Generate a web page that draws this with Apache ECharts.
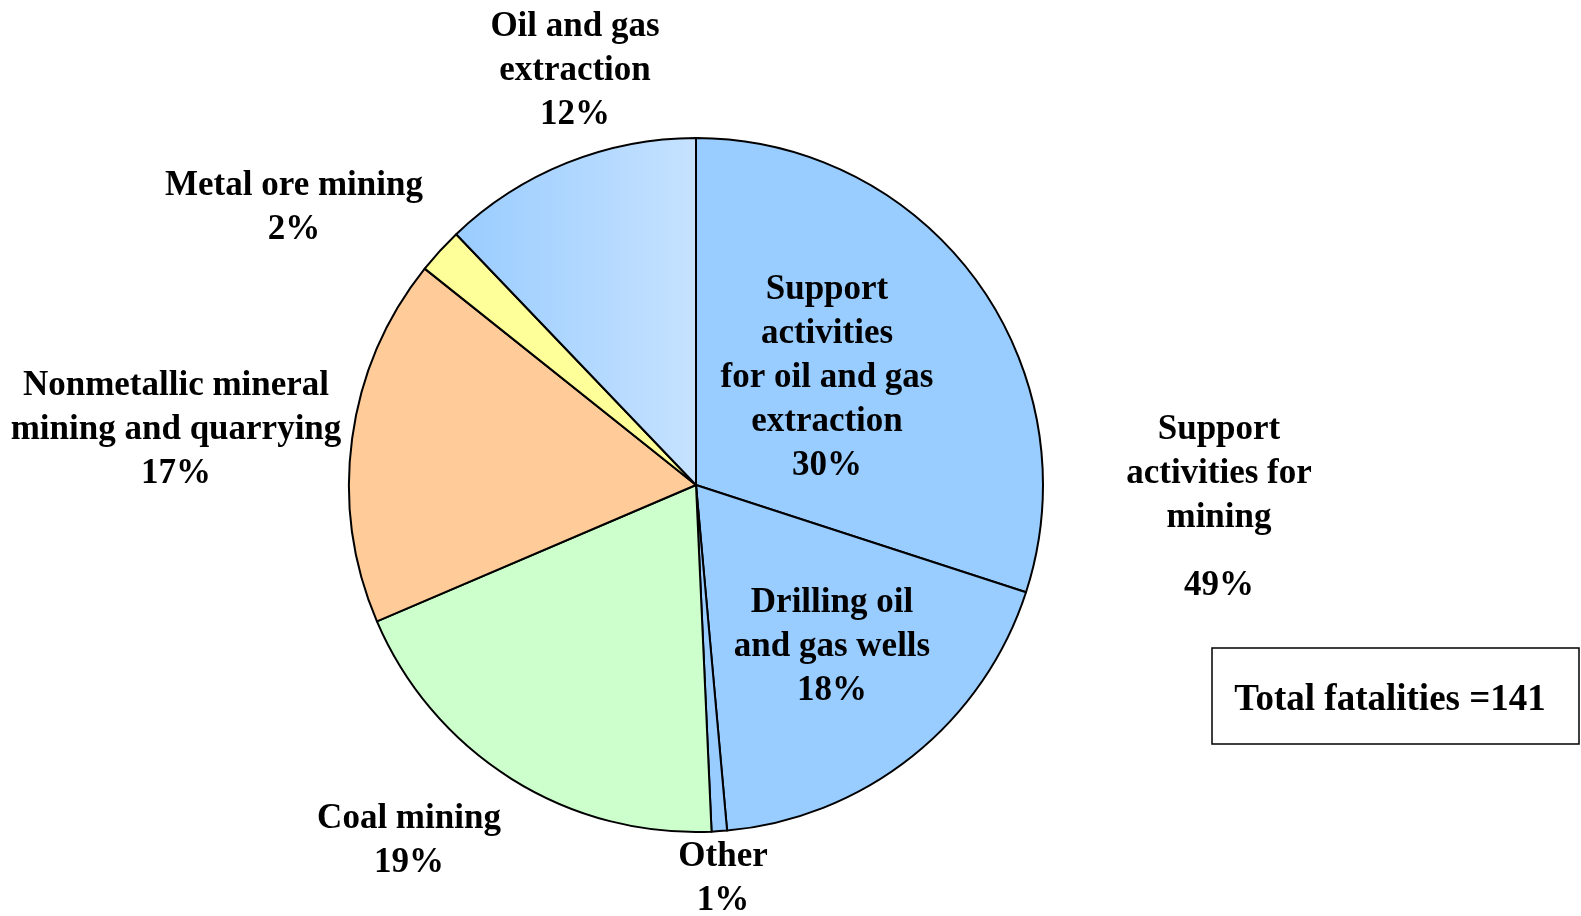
<!DOCTYPE html>
<html lang="en">
<head>
    <meta charset="UTF-8">
    <title>Mining fatalities</title>
    <script src="https://cdn.jsdelivr.net/npm/echarts@6/dist/echarts.min.js"></script>
    <style>
        html, body { margin: 0; padding: 0; background: #fff; }
        #main { width: 1581px; height: 916px; }
    </style>
</head>
<body>
<div id="main"></div>
<script>
    // slices, clockwise from 12 o'clock
    const categories = [
        'Support\nactivities\nfor oil and gas\nextraction',
        'Drilling oil\nand gas wells',
        'Other',
        'Coal mining',
        'Nonmetallic mineral\nmining and quarrying',
        'Metal ore mining',
        'Oil and gas\nextraction'
    ];
    const fatalities = [42, 26, 1, 27, 24, 3, 17];
    const percentLabels = ['30%', '18%', '1%', '19%', '17%', '2%', '12%'];
    const groupLabel = 'Support\nactivities for\nmining';
    const groupPercent = '49%';
    const totalLabel = 'Total fatalities =141';

    // label anchors (layout only)
    const labelPos = [
        [827, 378], [832, 647], [723, 879], [409, 841],
        [176, 430], [294, 208], [575, 71]
    ];

    const font = 'Liberation Serif, Times New Roman, serif';
    const colors = [
        '#99CCFF', '#99CCFF', '#99CCFF', '#CCFFCC', '#FFCC99', '#FFFF99',
        new echarts.graphic.LinearGradient(0, 0, 1, 0, [
            {offset: 0, color: '#99CCFF'},
            {offset: 1, color: '#C6E2FF'}
        ])
    ];

    let myChart = echarts.init(document.getElementById('main'));

    let option = {
        animation: false,
        series: [{
            type: 'pie',
            center: [696, 485],
            radius: 347,
            startAngle: 90,
            clockwise: true,
            avoidLabelOverlap: false,
            data: categories.map(function (name, i) {
                return {
                    name: name,
                    value: fatalities[i],
                    itemStyle: {color: colors[i]}
                };
            }),
            itemStyle: {borderColor: '#000', borderWidth: 2},
            label: {
                show: true,
                formatter: function (p) {
                    return p.name + '\n' + percentLabels[p.dataIndex];
                },
                fontFamily: font,
                fontWeight: 'bold',
                fontSize: 35,
                lineHeight: 44,
                color: '#000',
                align: 'center'
            },
            labelLine: {show: false},
            labelLayout: function (params) {
                const p = labelPos[params.dataIndex];
                return {x: p[0], y: p[1], align: 'center', verticalAlign: 'middle'};
            },
            emphasis: {disabled: true}
        }],
        graphic: [
            {
                type: 'text',
                x: 1219, y: 474,
                style: {
                    text: groupLabel, align: 'center', verticalAlign: 'middle',
                    fontFamily: font, fontWeight: 'bold', fontSize: 35, lineHeight: 44,
                    fill: '#000'
                }
            },
            {
                type: 'text',
                x: 1219, y: 586,
                style: {
                    text: groupPercent, align: 'center', verticalAlign: 'middle',
                    fontFamily: font, fontWeight: 'bold', fontSize: 35, fill: '#000'
                }
            },
            {
                type: 'rect',
                shape: {x: 1212, y: 648, width: 367, height: 96},
                style: {fill: '#fff', stroke: '#000', lineWidth: 1.5}
            },
            {
                type: 'text',
                x: 1390, y: 700,
                style: {
                    text: totalLabel, align: 'center', verticalAlign: 'middle',
                    fontFamily: font, fontWeight: 'bold', fontSize: 37, fill: '#000'
                }
            }
        ]
    };

    myChart.setOption(option);
</script>
</body>
</html>
